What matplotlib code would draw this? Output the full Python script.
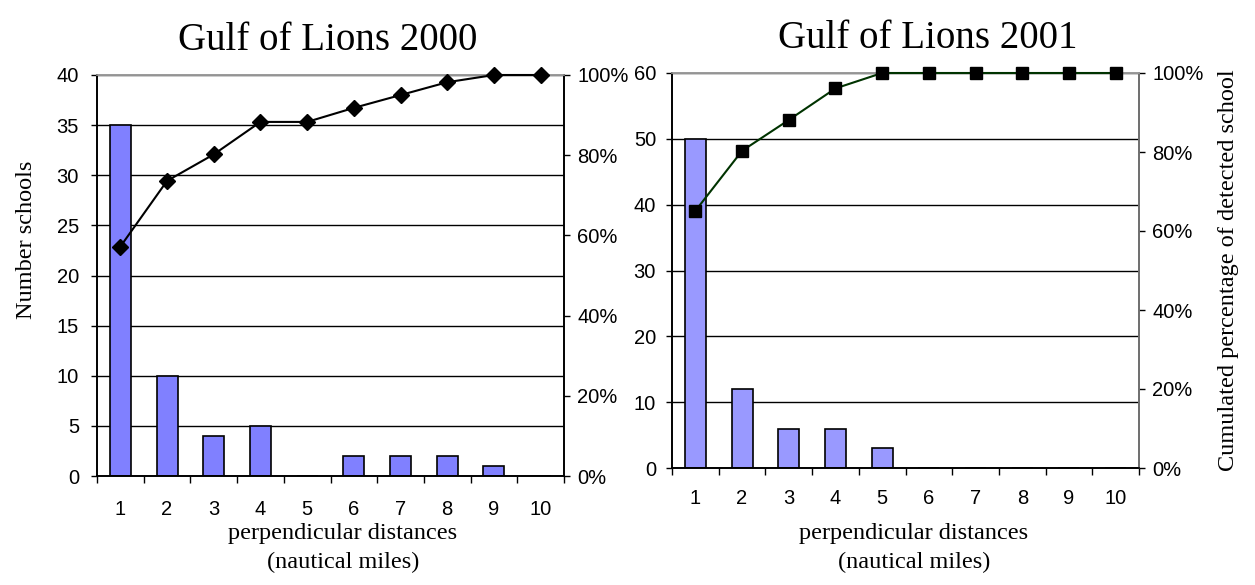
import matplotlib
matplotlib.use("Agg")
import matplotlib.pyplot as plt
from matplotlib.ticker import FixedLocator, PercentFormatter

# perpendicular distance classes (nautical miles)
distances = [1, 2, 3, 4, 5, 6, 7, 8, 9, 10]

# Gulf of Lions 2000
schools_2000 = [35, 10, 4, 5, 0, 2, 2, 2, 1, 0]
cumul_2000 = [57.2, 73.6, 80.2, 88.3, 88.3, 91.8, 95.0, 98.2, 100, 100]

# Gulf of Lions 2001
schools_2001 = [50, 12, 6, 6, 3, 0, 0, 0, 0, 0]
cumul_2001 = [65.1, 80.3, 88.1, 96.1, 100, 100, 100, 100, 100, 100]

SERIF = "Liberation Serif"
SANS = "Liberation Sans"
plt.rcParams["font.family"] = SANS

W, H = 1255, 585


def draw_panel(fig, rect, title, title_x, counts, cumul, ymax, ystep,
               bar_color, line_color, marker, left_pad, xpad, xlabel_x):
    ax = fig.add_axes(rect)
    ax2 = ax.twinx()

    ax.bar(distances, counts, width=0.45, color=bar_color,
           edgecolor="black", linewidth=1.2, zorder=2)
    ax.set_xlim(0.5, 10.5)
    ax.set_ylim(0, ymax)
    ax.set_yticks(list(range(0, ymax + 1, ystep)))
    ax.set_xticks(distances)
    ax.xaxis.set_minor_locator(FixedLocator([d + 0.5 for d in [0] + distances]))
    ax.tick_params(axis="x", which="major", length=0, pad=xpad, labelsize=14.5)
    ax.tick_params(axis="x", which="minor", length=5, width=1, direction="out")
    ax.tick_params(axis="y", length=4.5, width=1, pad=left_pad, labelsize=14.5)
    ax.set_axisbelow(True)
    ax.yaxis.grid(True, color="black", linewidth=1)

    ax2.plot(distances, cumul, color=line_color, linewidth=1.5,
             marker=marker, markersize=8.5, markerfacecolor="black",
             markeredgecolor="black", clip_on=False, zorder=3)
    ax2.set_ylim(0, 100)
    ax2.set_yticks([0, 20, 40, 60, 80, 100])
    ax2.yaxis.set_major_formatter(PercentFormatter(decimals=0))
    ax2.tick_params(axis="y", length=4.5, width=1, pad=5, labelsize=14.5)

    for a in (ax, ax2):
        a.spines["top"].set_color("#999999")
        a.spines["left"].set_color("black")
        a.spines["bottom"].set_color("black")
        a.spines["right"].set_color("black")
        for s in a.spines.values():
            s.set_linewidth(1.2)

    ax.set_title(title, fontsize=28, family=SERIF, pad=18, x=title_x)
    fig.text(xlabel_x / W, 1 - 548 / H,
             "perpendicular distances\n(nautical miles)", fontsize=17.5,
             family=SERIF, ha="center", va="center", linespacing=1.53)
    return ax, ax2


fig = plt.figure(figsize=(W / 100, H / 100), dpi=100)

axl, axl2 = draw_panel(fig, [97 / W, 1 - 476 / H, 467 / W, 401 / H],
                       "Gulf of Lions 2000", 0.495, schools_2000, cumul_2000,
                       40, 5, "#8080FF", "black", "D", 8.5, 17, 343)
axl.set_ylabel("Number schools", fontsize=17.5, family=SERIF)
axl.yaxis.set_label_coords(-0.129, 0.589)

axr, axr2 = draw_panel(fig, [672 / W, 1 - 468 / H, 467 / W, 395 / H],
                       "Gulf of Lions 2001", 0.548, schools_2001, cumul_2001,
                       60, 10, "#9999FF", "#003300", "s", 7, 15, 914)
axr2.spines["right"].set_color("#808080")
axr2.set_ylabel("Cumulated percentage of detected school", fontsize=17.5,
                family=SERIF, rotation=90)
axr2.yaxis.set_label_coords(1.169, 0.5)

fig.savefig("out.png", dpi=100)
